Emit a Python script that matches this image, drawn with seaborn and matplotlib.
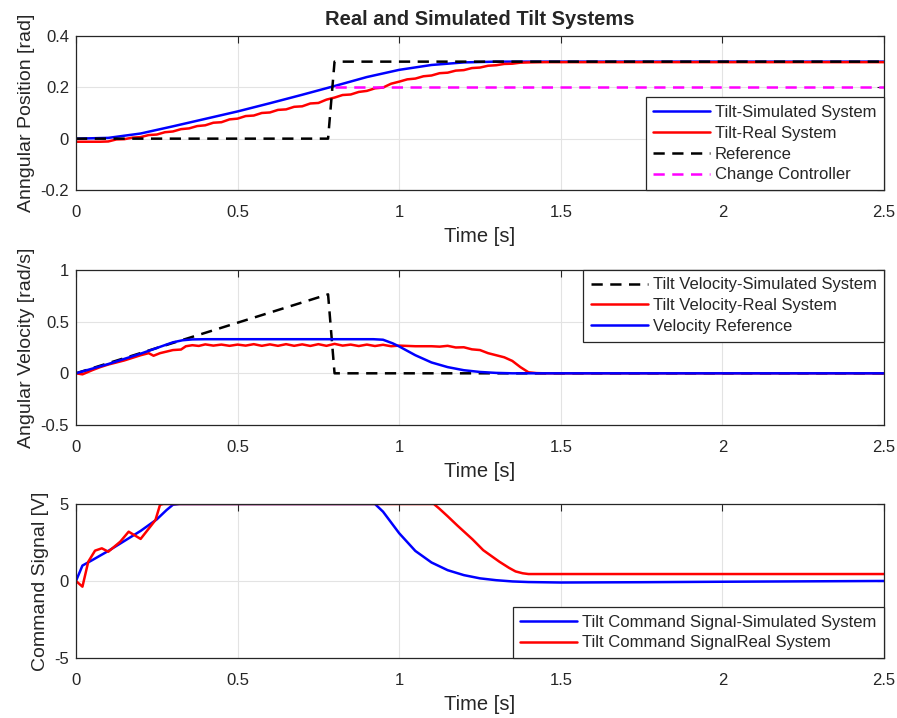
import numpy as np
import pandas as pd
import matplotlib.pyplot as plt
import seaborn as sns

# --- angular position [rad] ---
pos_sim_t = [0, 0.1, 0.2, 0.3, 0.4, 0.5, 0.6, 0.7, 0.8, 0.9, 1.0, 1.1, 1.2, 1.3, 2.5]
pos_sim = [0, 0.003, 0.02, 0.048, 0.077, 0.106, 0.138, 0.171, 0.205, 0.24, 0.268, 0.287, 0.297, 0.3, 0.3]

pos_real_t = [0.0, 0.025, 0.05, 0.075, 0.1, 0.125, 0.15, 0.175, 0.2, 0.225, 0.25, 0.275, 0.3, 0.325,
              0.35, 0.375, 0.4, 0.425, 0.45, 0.475, 0.5, 0.525, 0.55, 0.575, 0.6, 0.625, 0.65, 0.675,
              0.7, 0.725, 0.75, 0.775, 0.8, 0.825, 0.85, 0.875, 0.9, 0.925, 0.95, 0.975, 1.0, 1.025,
              1.05, 1.075, 1.1, 1.125, 1.15, 1.175, 1.2, 1.225, 1.25, 1.275, 1.3, 1.325, 1.35, 1.375,
              1.4, 1.45, 2.5]
pos_real = [-0.012, -0.012, -0.012, -0.012, -0.011, -0.003, -0.002, 0.004, 0.006, 0.014, 0.016, 0.025,
            0.028, 0.037, 0.040, 0.049, 0.052, 0.062, 0.064, 0.075, 0.078, 0.088, 0.090, 0.100, 0.102,
            0.112, 0.114, 0.124, 0.126, 0.137, 0.139, 0.152, 0.160, 0.170, 0.172, 0.182, 0.186, 0.196,
            0.199, 0.214, 0.222, 0.231, 0.234, 0.243, 0.246, 0.255, 0.257, 0.265, 0.267, 0.275, 0.277,
            0.284, 0.286, 0.291, 0.292, 0.296, 0.297, 0.298, 0.298]

ref_t = [0, 0.78, 0.80, 2.5]
ref = [0, 0, 0.3, 0.3]
change_t = [0.8, 2.5]
change = [0.2, 0.2]

# --- angular velocity [rad/s] ---
vel_dash_t = [0, 0.78, 0.80, 2.5]
vel_dash = [0, 0.764, 0, 0]

vel_real_t = [0.0, 0.02, 0.05, 0.075, 0.1, 0.125, 0.15, 0.175, 0.2, 0.225, 0.24, 0.26, 0.28, 0.3,
              0.325, 0.34, 0.36, 0.38, 0.4, 0.425, 0.45, 0.475, 0.5, 0.525, 0.55, 0.575, 0.6, 0.625,
              0.65, 0.675, 0.7, 0.725, 0.75, 0.775, 0.8, 0.825, 0.85, 0.875, 0.9, 0.925, 0.95, 0.975,
              1.0, 1.05, 1.1, 1.125, 1.15, 1.175, 1.2, 1.225, 1.25, 1.275, 1.3, 1.325, 1.35, 1.375,
              1.4, 1.425, 1.45, 2.5]
vel_real = [0.0, -0.01, 0.03, 0.06, 0.085, 0.105, 0.125, 0.15, 0.175, 0.195, 0.17, 0.195, 0.21, 0.225,
            0.23, 0.262, 0.272, 0.265, 0.28, 0.268, 0.278, 0.266, 0.278, 0.268, 0.282, 0.266, 0.28,
            0.266, 0.282, 0.266, 0.28, 0.265, 0.282, 0.266, 0.285, 0.268, 0.278, 0.264, 0.278, 0.264,
            0.276, 0.262, 0.268, 0.262, 0.262, 0.258, 0.266, 0.25, 0.252, 0.232, 0.225, 0.195, 0.175,
            0.155, 0.12, 0.06, 0.01, 0.002, 0.0, 0.0]

vel_ref_t = [0, 0.1, 0.2, 0.25, 0.3, 0.33, 0.36, 0.4, 0.92, 0.95, 0.98, 1.0, 1.05, 1.1, 1.15, 1.2,
             1.25, 1.3, 1.35, 2.5]
vel_ref = [0, 0.09, 0.19, 0.245, 0.3, 0.32, 0.328, 0.33, 0.33, 0.325, 0.29, 0.26, 0.175, 0.105, 0.06,
           0.03, 0.013, 0.004, 0.0, 0.0]

# --- command signal [V] ---
cmd_sim_t = [0, 0.02, 0.05, 0.1, 0.15, 0.2, 0.25, 0.28, 0.3, 0.32, 0.925, 0.95, 1.0, 1.05, 1.1, 1.15,
             1.2, 1.25, 1.3, 1.35, 1.4, 1.5, 1.75, 2.0, 2.5]
cmd_sim = [0, 1.0, 1.35, 1.95, 2.6, 3.25, 4.0, 4.6, 4.95, 5.0, 5.0, 4.5, 3.1, 1.95, 1.2, 0.7, 0.38,
           0.17, 0.05, -0.03, -0.07, -0.1, -0.08, -0.05, 0.0]

cmd_real_t = [0, 0.02, 0.038, 0.059, 0.08, 0.1, 0.137, 0.163, 0.2, 0.23, 0.246, 0.26, 0.27, 1.107,
              1.123, 1.15, 1.18, 1.227, 1.26, 1.31, 1.34, 1.36, 1.382, 1.4, 2.5]
cmd_real = [0, -0.37, 1.25, 1.97, 2.12, 1.9, 2.55, 3.2, 2.73, 3.53, 3.96, 4.94, 5.0, 5.0, 4.72, 4.2,
            3.6, 2.7, 2.0, 1.25, 0.85, 0.62, 0.5, 0.45, 0.45]

sns.set_style('whitegrid', {'grid.color': '#e3e3e3', 'axes.edgecolor': '#262626',
                            'xtick.direction': 'in', 'ytick.direction': 'in'})
plt.rcParams['font.family'] = ['Liberation Sans', 'DejaVu Sans']
plt.rcParams['text.color'] = '#262626'
plt.rcParams['axes.labelcolor'] = '#262626'
plt.rcParams['xtick.color'] = '#262626'
plt.rcParams['ytick.color'] = '#262626'

fig = plt.figure(figsize=(8.97, 7.18), dpi=100)
ax1 = fig.add_axes([0.0847, 0.7354, 0.9008, 0.2145])
ax2 = fig.add_axes([0.0847, 0.4081, 0.9008, 0.2159])
ax3 = fig.add_axes([0.0847, 0.0836, 0.9008, 0.2145])

lw = 1.8
dash = (0, (4.5, 3))

sns.lineplot(x=pos_sim_t, y=pos_sim, ax=ax1, color='#0000ff', lw=lw, label='Tilt-Simulated System')
sns.lineplot(x=pos_real_t, y=pos_real, ax=ax1, color='#ff0000', lw=lw, label='Tilt-Real System')
sns.lineplot(x=ref_t, y=ref, ax=ax1, color='black', lw=lw, linestyle=dash, label='Reference')
sns.lineplot(x=change_t, y=change, ax=ax1, color='#ff00ff', lw=lw, linestyle=dash, label='Change Controller')

sns.lineplot(x=vel_dash_t, y=vel_dash, ax=ax2, color='black', lw=lw, linestyle=dash,
             label='Tilt Velocity-Simulated System')
sns.lineplot(x=vel_real_t, y=vel_real, ax=ax2, color='#ff0000', lw=lw, label='Tilt Velocity-Real System')
sns.lineplot(x=vel_ref_t, y=vel_ref, ax=ax2, color='#0000ff', lw=lw, label='Velocity Reference')

sns.lineplot(x=cmd_sim_t, y=cmd_sim, ax=ax3, color='#0000ff', lw=lw,
             label='Tilt Command Signal-Simulated System')
sns.lineplot(x=cmd_real_t, y=cmd_real, ax=ax3, color='#ff0000', lw=lw,
             label='Tilt Command SignalReal System')

settings = [
    (ax1, (-0.2, 0.4), [-0.2, 0, 0.2, 0.4], ['-0.2', '0', '0.2', '0.4'], 'Anngular Position [rad]', 'lower right'),
    (ax2, (-0.5, 1), [-0.5, 0, 0.5, 1], ['-0.5', '0', '0.5', '1'], 'Angular Velocity [rad/s]', 'upper right'),
    (ax3, (-5, 5), [-5, 0, 5], ['-5', '0', '5'], 'Command Signal [V]', 'lower right'),
]
xt = [0, 0.5, 1, 1.5, 2, 2.5]
for ax, ylim, yt, ytl, ylab, loc in settings:
    ax.set_xlim(0, 2.5)
    ax.set_ylim(*ylim)
    ax.set_xticks(xt)
    ax.set_xticklabels(['0', '0.5', '1', '1.5', '2', '2.5'])
    ax.set_yticks(yt)
    ax.set_yticklabels(ytl)
    ax.tick_params(labelsize=12, length=5, width=0.8, top=True, right=True)
    ax.tick_params(axis='x', pad=11)
    ax.tick_params(axis='y', pad=5)
    ax.set_xlabel('Time [s]', fontsize=14.5, labelpad=4.5)
    ax.set_ylabel(ylab, fontsize=14, labelpad=4)
    ax.grid(True, color='#e3e3e3', lw=0.8)
    for s in ax.spines.values():
        s.set_visible(True)
        s.set_color('#262626')
        s.set_linewidth(0.9)
    leg = ax.legend(loc=loc, fontsize=12, frameon=True, fancybox=False, framealpha=1,
                    edgecolor='#262626', borderaxespad=0, handlelength=3.4, handletextpad=0.3,
                    labelspacing=0.35, borderpad=0.45)
    leg.get_frame().set_linewidth(0.9)

ax1.set_title('Real and Simulated Tilt Systems', fontsize=14.5, fontweight='bold', pad=8)

fig.savefig('out.png', dpi=100)
